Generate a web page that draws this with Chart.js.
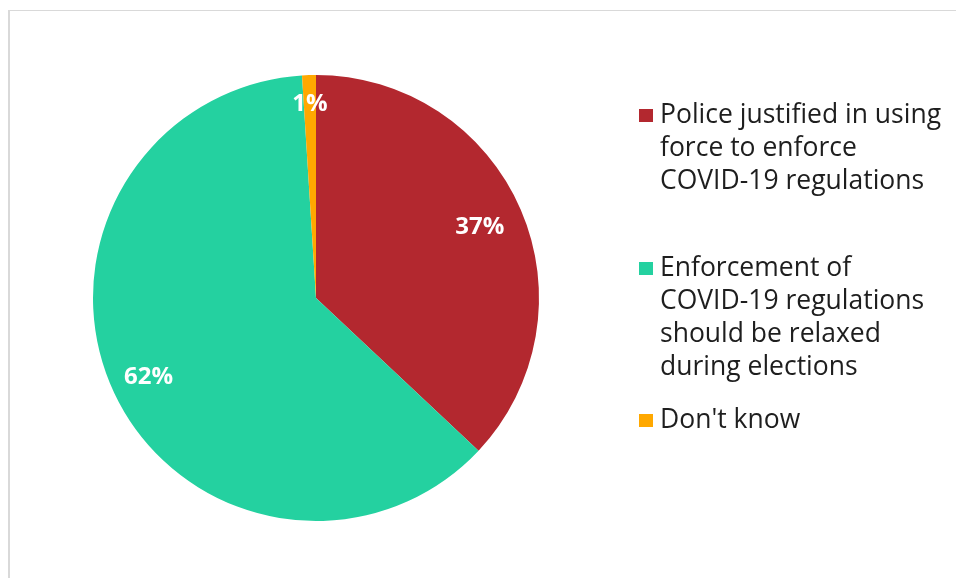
<!DOCTYPE html>
<html>
<head>
<meta charset="utf-8">
<script src="https://cdn.jsdelivr.net/npm/chart.js@4"></script>
<style>
    body { margin: 0; background: #fff; }
    #wrap { position: relative; width: 956px; height: 578px; }
    #frame { position: absolute; left: 8px; top: 10px; right: 0; bottom: 0; border-top: 1px solid #d9d9d9; border-left: 2px solid #d9d9d9; }
    #pie { position: absolute; left: 0; top: 0; }
</style>
</head>
<body>
<div id="wrap">
    <div id="frame"></div>
    <canvas id="pie" width="956" height="578"></canvas>
</div>
<script>
// Chart data
const categories = [
    'Police justified in using force to enforce COVID-19 regulations',
    'Enforcement of COVID-19 regulations should be relaxed during elections',
    "Don't know"
];
const legendLines = [
    ['Police justified in using', 'force to enforce', 'COVID-19 regulations'],
    ['Enforcement of', 'COVID-19 regulations', 'should be relaxed', 'during elections'],
    ["Don't know"]
];
const shares = [37, 62, 1];
const sliceColors = ['#B3282F', '#24D1A0', '#FFA800'];

const FONT = '"Open Sans", sans-serif';

// White percentage labels inside the slices
const sliceLabels = {
    id: 'sliceLabels',
    afterDatasetsDraw(chart) {
        const ctx = chart.ctx;
        const radial = [0.8, 0.83, 0.87];
        chart.getDatasetMeta(0).data.forEach((arc, i) => {
            const mid = (arc.startAngle + arc.endAngle) / 2;
            const r = arc.outerRadius * radial[i];
            const x = arc.x + Math.cos(mid) * r;
            const y = arc.y + Math.sin(mid) * r;
            ctx.save();
            ctx.font = 'bold 24px ' + FONT;
            ctx.fillStyle = '#fff';
            ctx.textAlign = 'center';
            ctx.textBaseline = 'middle';
            ctx.fillText(shares[i] + '%', x, y);
            ctx.restore();
        });
    }
};

// Legend on the right with wrapped lines
const sideLegend = {
    id: 'sideLegend',
    afterDraw(chart) {
        const ctx = chart.ctx;
        const firstLine = [115, 268, 420];
        const lineGap = 33;
        ctx.save();
        ctx.font = '26.5px ' + FONT;
        ctx.textBaseline = 'middle';
        legendLines.forEach((lines, i) => {
            ctx.fillStyle = sliceColors[i];
            ctx.fillRect(639, firstLine[i] - 6, 14, 13);
            ctx.fillStyle = '#1e1e1e';
            lines.forEach((t, j) => ctx.fillText(t, 660, firstLine[i] + j * lineGap));
        });
        ctx.restore();
    }
};

new Chart(document.getElementById('pie'), {
    type: 'pie',
    data: {
        labels: categories,
        datasets: [{
            data: shares,
            backgroundColor: sliceColors,
            borderWidth: 0
        }]
    },
    options: {
        responsive: false,
        animation: false,
        layout: { padding: { left: 93, right: 417, top: 75, bottom: 57 } },
        plugins: {
            legend: { display: false },
            tooltip: { enabled: false }
        }
    },
    plugins: [sliceLabels, sideLegend]
});
</script>
</body>
</html>
